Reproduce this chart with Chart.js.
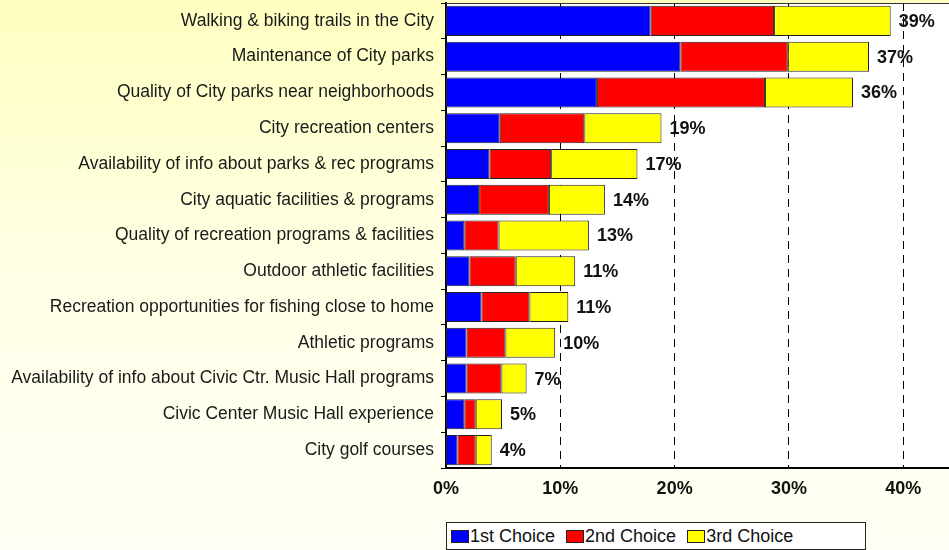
<!DOCTYPE html>
<html>
<head>
<meta charset="utf-8">
<script src="https://cdn.jsdelivr.net/npm/chart.js@4/dist/chart.umd.min.js"></script>
<style>
  html, body { margin: 0; padding: 0; }
  body {
    width: 949px; height: 550px; overflow: hidden; position: relative;
    background: linear-gradient(to bottom, #FFFFC0 0%, #FFFFE6 50%, #FFFFF5 100%);
    font-family: Arial, "Liberation Sans", sans-serif;
  }
  #wrap { position: absolute; left: 0; top: 0; width: 949px; height: 550px; }
  #legend {
    position: absolute; left: 446px; top: 522px; width: 418px; height: 26px;
    background: #fff; border: 1px solid #222;
    display: flex; align-items: center; font-size: 18px; color: #111;
  }
  #legend span.sw {
    display: inline-block; width: 18px; height: 13px; border: 1px solid #222;
    margin-right: 1px; box-sizing: border-box;
  }
  #legend span.item { display: flex; align-items: center; margin-left: 4px; margin-right: 7px; }
</style>
</head>
<body>
<div id="wrap"><canvas id="chart" width="949" height="550"></canvas></div>
<div id="legend"></div>
<script>
// categories (top to bottom)
const categories = [
  'Walking & biking trails in the City',
  'Maintenance of City parks',
  'Quality of City parks near neighborhoods',
  'City recreation centers',
  'Availability of info about parks & rec programs',
  'City aquatic facilities & programs',
  'Quality of recreation programs & facilities',
  'Outdoor athletic facilities',
  'Recreation opportunities for fishing close to home',
  'Athletic programs',
  'Availability of info about Civic Ctr. Music Hall programs',
  'Civic Center Music Hall experience',
  'City golf courses'
];

const firstChoice  = [17.9, 20.5, 13.2, 4.7, 3.8, 2.9, 1.6, 2.05, 3.1, 1.8, 1.8, 1.6, 1.0];
const secondChoice = [10.8, 9.4, 14.7, 7.4, 5.4, 6.1, 3.0, 4.05, 4.2, 3.4, 3.05, 1.0, 1.6];
const thirdChoice  = [10.2, 7.1, 7.7, 6.75, 7.55, 4.9, 7.9, 5.2, 3.4, 4.35, 2.2, 2.3, 1.4];

const seriesNames = ['1st Choice', '2nd Choice', '3rd Choice'];
const seriesColors = ['#0000FF', '#FF0000', '#FFFF00'];
const xTicks = [0, 10, 20, 30, 40];

const FONT = 'Arial, "Liberation Sans", sans-serif';

// white plot area + top frame line
const plotBg = {
  id: 'plotBg',
  beforeDraw(chart) {
    const { ctx, chartArea: a } = chart;
    ctx.save();
    ctx.fillStyle = '#fff';
    ctx.fillRect(a.left, a.top, a.right - a.left, a.bottom - a.top);
    ctx.restore();
  },
  afterDraw(chart) {
    const { ctx, chartArea: a } = chart;
    ctx.save();
    ctx.strokeStyle = '#333';
    ctx.lineWidth = 1;
    ctx.beginPath();
    ctx.moveTo(a.left, a.top + 0.5);
    ctx.lineTo(a.right, a.top + 0.5);
    ctx.stroke();
    ctx.restore();
  }
};

// total labels at bar ends
const totalLabels = {
  id: 'totalLabels',
  afterDatasetsDraw(chart) {
    const { ctx } = chart;
    const last = chart.getDatasetMeta(2);
    ctx.save();
    ctx.font = 'bold 18px ' + FONT;
    ctx.fillStyle = '#111';
    ctx.textBaseline = 'middle';
    ctx.textAlign = 'left';
    last.data.forEach((bar, i) => {
      const total = firstChoice[i] + secondChoice[i] + thirdChoice[i];
      ctx.fillText(Math.round(total) + '%', bar.x + 8, bar.y + 1);
    });
    ctx.restore();
  }
};

new Chart(document.getElementById('chart'), {
  type: 'bar',
  data: {
    labels: categories,
    datasets: [firstChoice, secondChoice, thirdChoice].map((d, i) => ({
      label: seriesNames[i],
      data: d,
      backgroundColor: seriesColors[i],
      borderColor: '#222',
      borderWidth: 1,
      borderSkipped: false,
      barPercentage: 0.84,
      categoryPercentage: 1
    }))
  },
  options: {
    indexAxis: 'y',
    responsive: false,
    animation: false,
    layout: { padding: { top: 3, right: 0, bottom: 0, left: 0 } },
    plugins: {
      legend: { display: false },
      tooltip: { enabled: false }
    },
    scales: {
      x: {
        stacked: true,
        min: 0,
        max: 44,
        afterBuildTicks(scale) {
          scale.ticks = xTicks.map(v => ({ value: v }));
        },
        afterFit(scale) { scale.height = 82; },
        grid: {
          color: '#000',
          lineWidth: ctx => (ctx.tick && ctx.tick.value === 0 ? 0 : 1),
          drawTicks: false
        },
        border: { display: true, color: '#000', width: 2, dash: [8, 6] },
        ticks: {
          padding: 10,
          color: '#111',
          font: { family: FONT, size: 18, weight: 'bold' },
          callback: v => v + '%'
        }
      },
      y: {
        stacked: true,
        afterFit(scale) {
          scale.width = 446;
          scale.paddingTop = 0;
          scale.paddingBottom = 0;
        },
        grid: {
          drawOnChartArea: false,
          color: '#000',
          tickLength: 5
        },
        border: { display: true, color: '#000', width: 2 },
        ticks: {
          padding: 7,
          color: '#1a1a1a',
          font: { family: FONT, size: 17.5 }
        }
      }
    }
  },
  plugins: [plotBg, totalLabels]
});

// legend
const legend = document.getElementById('legend');
seriesNames.forEach((name, i) => {
  const item = document.createElement('span');
  item.className = 'item';
  const sw = document.createElement('span');
  sw.className = 'sw';
  sw.style.background = seriesColors[i];
  item.appendChild(sw);
  item.appendChild(document.createTextNode(name));
  legend.appendChild(item);
});
</script>
</body>
</html>
